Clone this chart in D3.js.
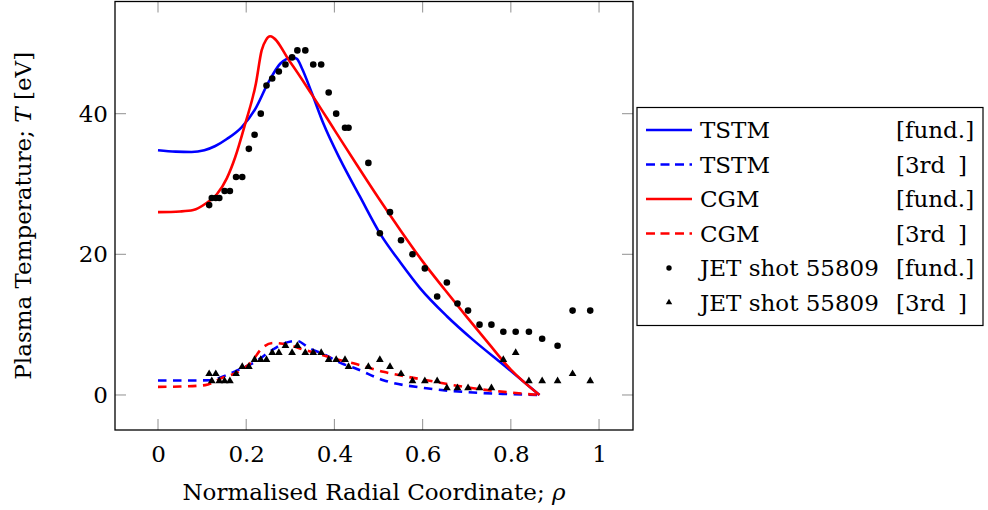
<!DOCTYPE html>
<html>
<head>
<meta charset="utf-8">
<script src="https://cdn.jsdelivr.net/npm/d3@7"></script>
<style>
  body { margin: 0; background: #ffffff; }
</style>
</head>
<body>
<svg id="chart" width="988" height="510"></svg>
<script>
// ---- axis ticks ----
const xTicks = [0, 0.2, 0.4, 0.6, 0.8, 1];
const yTicks = [0, 20, 40];

// ---- JET shot 55809 ECE measurements ----
const rhoJET = [0.116, 0.122, 0.131, 0.139, 0.151, 0.163, 0.177, 0.191, 0.206, 0.219,
                0.233, 0.246, 0.259, 0.274, 0.289, 0.304, 0.316, 0.334, 0.352, 0.370,
                0.387, 0.404, 0.424, 0.432, 0.477, 0.503, 0.526, 0.551, 0.577, 0.605,
                0.633, 0.655, 0.679, 0.703, 0.729, 0.756, 0.783, 0.811, 0.841, 0.871,
                0.906, 0.940, 0.980];
const teFundJET = [27, 28, 28, 28, 29, 29, 31, 31, 35, 37,
                   40, 44, 45, 46, 47, 48, 49, 49, 47, 47,
                   43, 40, 38, 38, 33, 23, 26, 22, 20, 18,
                   14, 16, 13, 12, 10, 10, 9, 9, 9, 8,
                   7, 12, 12];
const te3rdJET = [3, 2, 3, 2, 2, 2, 3, 4, 4, 5,
                  5, 5, 6, 6, 7, 6, 7, 6, 6, 6,
                  5, 5, 5, 4, 4, 5, 4, 3, 2, 2,
                  2, 1, 1, 1, 1, 1, 5, 6, 2, 2,
                  2, 3, 2];

// ---- TSTM model, fundamental ----
const rhoTSTMFund = [0, 0.04, 0.076, 0.105, 0.13, 0.156, 0.19, 0.22, 0.25, 0.277, 0.292, 0.305, 0.315,
                     0.326, 0.349, 0.375, 0.413, 0.458, 0.505, 0.55, 0.594, 0.655, 0.715, 0.783, 0.865];
const teTSTMFund  = [34.8, 34.6, 34.55, 34.8, 35.4, 36.4, 38.1, 40.6, 44.4, 47.1, 47.8, 48.0, 47.8,
                     46.5, 42.9, 38.6, 33.5, 28.2, 22.8, 18.8, 15.2, 11.2, 7.8, 4.3, 0];

// ---- TSTM model, 3rd harmonic ----
const rhoTSTM3rd = [0, 0.05, 0.1, 0.118, 0.156, 0.19, 0.22, 0.254, 0.284, 0.314, 0.345, 0.379,
                    0.416, 0.447, 0.511, 0.609, 0.715, 0.79, 0.865];
const teTSTM3rd  = [2.05, 2.05, 2.07, 2.1, 2.85, 3.8, 4.7, 6.2, 7.3, 7.7, 6.6, 5.7,
                    4.5, 3.8, 2.1, 0.95, 0.35, 0.14, 0];

// ---- CGM model, fundamental ----
const rhoCGMFund = [0, 0.05, 0.08, 0.11, 0.133, 0.156, 0.175, 0.197, 0.222, 0.235, 0.245, 0.254,
                    0.30, 0.35, 0.40, 0.45, 0.50, 0.55, 0.60, 0.65, 0.70, 0.75, 0.80, 0.865];
const teCGMFund  = [26.0, 26.1, 26.3, 27.3, 28.5, 30.8, 33.8, 38.4, 44.3, 49.0, 50.5, 51.0,
                    47.3, 42.6, 37.7, 32.8, 28.0, 23.4, 19.0, 15.0, 11.1, 7.3, 3.6, 0];

// ---- CGM model, 3rd harmonic ----
const rhoCGM3rd = [0, 0.05, 0.107, 0.144, 0.182, 0.212, 0.235, 0.261, 0.296, 0.333, 0.371,
                   0.409, 0.443, 0.511, 0.609, 0.715, 0.79, 0.865];
const teCGM3rd  = [1.15, 1.2, 1.4, 2.4, 3.3, 4.7, 6.6, 7.4, 7.1, 6.4, 5.7,
                   5.0, 4.5, 3.3, 2.1, 0.95, 0.4, 0];

// ---- legend text ----
const legendNames = ["TSTM", "TSTM", "CGM", "CGM", "JET shot 55809", "JET shot 55809"];
const legendTags  = ["[fund.]", "[3rd", "[fund.]", "[3rd", "[fund.]", "[3rd"];

// ================= drawing =================
const SERIF = "DejaVu Serif";
const svg = d3.select("#chart").style("font-family", SERIF);
const frame = { left: 115, right: 633, top: 1.5, bottom: 430 };

const x = d3.scaleLinear().domain([-0.0975, 1.077]).range([frame.left, frame.right]);
const y = d3.scaleLinear().domain([-4.98, 55.95]).range([frame.bottom, frame.top]);

const FONT = 23;
const BLUE = "#0000ff", RED = "#ff0000";
const DASH = "8.5,6.5";
const tickLen = 11;

function label(sel) {
  return sel.attr("font-family", SERIF).style("font-family", SERIF)
            .attr("font-size", FONT).attr("fill", "#000");
}

// tick marks on all four sides
const tickG = svg.append("g").attr("stroke", "#9a9a9a").attr("stroke-width", 1.1);
xTicks.forEach(t => {
  tickG.append("line").attr("x1", x(t)).attr("x2", x(t)).attr("y1", frame.bottom).attr("y2", frame.bottom - tickLen);
  tickG.append("line").attr("x1", x(t)).attr("x2", x(t)).attr("y1", frame.top).attr("y2", frame.top + tickLen);
});
yTicks.forEach(t => {
  tickG.append("line").attr("x1", frame.left).attr("x2", frame.left + tickLen).attr("y1", y(t)).attr("y2", y(t));
  tickG.append("line").attr("x1", frame.right).attr("x2", frame.right - tickLen).attr("y1", y(t)).attr("y2", y(t));
});

// tick labels via d3 axes (domain path and tick lines hidden)
const xAxis = d3.axisBottom(x).tickValues(xTicks).tickFormat(d => d3.format("")(d)).tickSize(0).tickPadding(0);
const gx = svg.append("g").attr("transform", `translate(0,${frame.bottom})`).call(xAxis);
gx.attr("font-family", SERIF);
gx.select(".domain").remove();
gx.selectAll("text").call(label).attr("y", 32).attr("dy", null);

const yAxis = d3.axisLeft(y).tickValues(yTicks).tickSize(0).tickPadding(0);
const gy = svg.append("g").attr("transform", `translate(${frame.left},0)`).call(yAxis);
gy.attr("font-family", SERIF);
gy.select(".domain").remove();
gy.selectAll("text").call(label).attr("x", -7).attr("dy", "0.33em");

// model curves
const line = d3.line().x(d => x(d[0])).y(d => y(d[1])).curve(d3.curveMonotoneX);
function curve(rho, te, color, dashed) {
  svg.append("path")
    .datum(d3.zip(rho, te))
    .attr("d", line)
    .attr("fill", "none")
    .attr("stroke", color)
    .attr("stroke-width", 2.6)
    .attr("stroke-linejoin", "round")
    .attr("stroke-dasharray", dashed ? DASH : null);
}
curve(rhoTSTMFund, teTSTMFund, BLUE, false);
curve(rhoTSTM3rd, teTSTM3rd, BLUE, true);
curve(rhoCGMFund, teCGMFund, RED, false);
curve(rhoCGM3rd, teCGM3rd, RED, true);

// measured points
svg.append("g").selectAll("circle")
  .data(d3.zip(rhoJET, teFundJET))
  .join("circle")
  .attr("cx", d => x(d[0])).attr("cy", d => y(d[1])).attr("r", 3.3).attr("fill", "#000");

const tri = d3.symbol().type(d3.symbolTriangle).size(26);
svg.append("g").selectAll("path")
  .data(d3.zip(rhoJET, te3rdJET))
  .join("path")
  .attr("transform", d => `translate(${x(d[0])},${y(d[1])})`)
  .attr("d", tri).attr("fill", "#000");

// frame
svg.append("rect")
  .attr("x", frame.left).attr("y", frame.top)
  .attr("width", frame.right - frame.left).attr("height", frame.bottom - frame.top)
  .attr("fill", "none").attr("stroke", "#000").attr("stroke-width", 1.3);

// axis titles
svg.append("text")
  .attr("x", (frame.left + frame.right) / 2).attr("y", 500)
  .attr("text-anchor", "middle").call(label)
  .call(t => {
    t.append("tspan").text("Normalised Radial Coordinate; ");
    t.append("tspan").attr("font-style", "italic").text("ρ");
  });

svg.append("text")
  .attr("transform", `translate(31,${(frame.top + frame.bottom) / 2}) rotate(-90)`)
  .attr("text-anchor", "middle").call(label)
  .call(t => {
    t.append("tspan").text("Plasma Temperature; ");
    t.append("tspan").attr("font-style", "italic").text("T");
    t.append("tspan").text(" [eV]");
  });

// legend
const lg = svg.append("g");
lg.append("rect").attr("x", 637).attr("y", 107.5).attr("width", 346).attr("height", 218)
  .attr("fill", "#fff").attr("stroke", "#000").attr("stroke-width", 1.2);

const rowY = i => 130 + i * 34.5;
const sampleStyle = [
  { kind: "line", color: BLUE, dashed: false },
  { kind: "line", color: BLUE, dashed: true },
  { kind: "line", color: RED, dashed: false },
  { kind: "line", color: RED, dashed: true },
  { kind: "dot" },
  { kind: "tri" }
];
legendNames.forEach((name, i) => {
  const cy = rowY(i);
  const s = sampleStyle[i];
  if (s.kind === "line") {
    lg.append("line").attr("x1", 646).attr("x2", 692).attr("y1", cy).attr("y2", cy)
      .attr("stroke", s.color).attr("stroke-width", 2.6)
      .attr("stroke-dasharray", s.dashed ? "9,5.5" : null);
  } else if (s.kind === "dot") {
    lg.append("circle").attr("cx", 669).attr("cy", cy).attr("r", 2.7).attr("fill", "#000");
  } else {
    lg.append("path").attr("transform", `translate(669,${cy})`)
      .attr("d", d3.symbol().type(d3.symbolTriangle).size(18)).attr("fill", "#000");
  }
  lg.append("text").attr("x", 700).attr("y", cy + 8).call(label).text(name);
  lg.append("text").attr("x", 896).attr("y", cy + 8).call(label).text(legendTags[i]);
  if (legendTags[i] === "[3rd") {
    lg.append("text").attr("x", 967).attr("y", cy + 8).attr("text-anchor", "end")
      .call(label).text("]");
  }
});
</script>
</body>
</html>
